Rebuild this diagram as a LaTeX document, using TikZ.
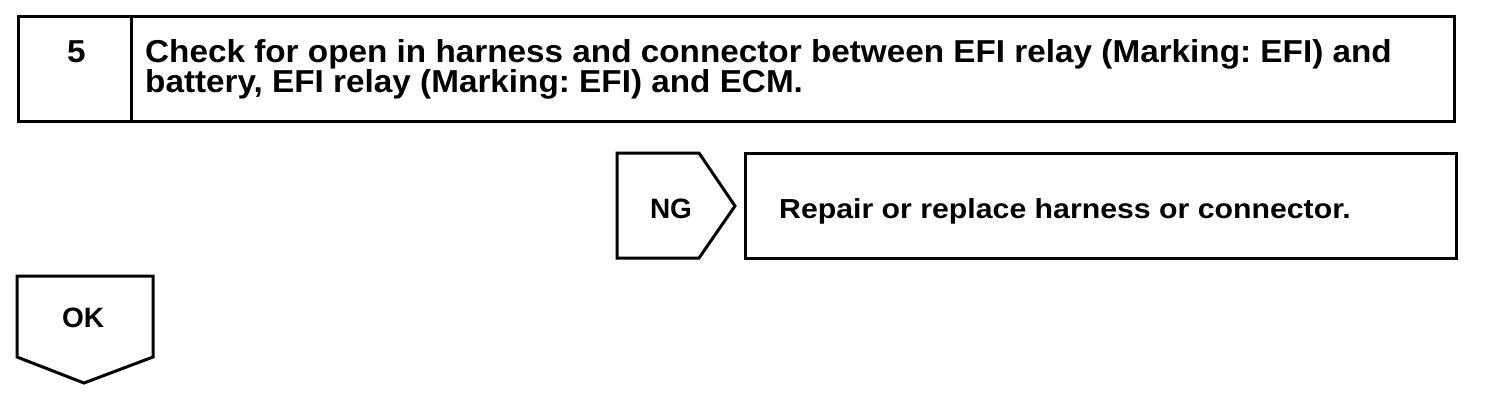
\documentclass[tikz,border=0pt]{standalone}
\usepackage{fontspec}
\setmainfont{Liberation Sans}
\newfontfamily\steptxt[FakeStretch=1.05]{Liberation Sans}
\newfontfamily\reptxt[FakeStretch=1.1]{Liberation Sans}
\frenchspacing
\begin{document}
\begin{tikzpicture}[x=1pt,y=-1pt,
  frame/.style={draw=black,line width=3pt,line join=miter},
  big/.style={inner sep=0pt,font=\steptxt\fontsize{31.7}{30}\selectfont\bfseries,anchor=base west},
  small/.style={inner sep=0pt,font=\fontsize{28}{30}\selectfont\bfseries,anchor=base},
  rep/.style={inner sep=0pt,font=\reptxt\fontsize{27.5}{30}\selectfont\bfseries,anchor=base west}]
\useasboundingbox (0,0) rectangle (1504,394);
% step box
\draw[frame] (18,16) rectangle (1454,121);
\draw[frame] (131,16) -- (131,121);
\node[big,anchor=base] (num) at (76.5,62.5) {5};
\node[big] (l1) at (145,62.5) {Check for open in harness and connector between EFI relay (Marking: EFI) and};
\node[big] (l2) at (145,92) {battery, EFI relay (Marking: EFI) and ECM.};
% NG
\draw[frame] (617,153) -- (699,153) -- (735,206) -- (699,258) -- (617,258) -- cycle;
\node[small] (ng) at (671,218) {NG};
\draw[frame] (745,153) rectangle (1456,258);
\node[rep] (rep) at (779,218) {Repair or replace harness or connector.};
% OK
\draw[frame] (17,276) -- (153,276) -- (153,357) -- (84,383) -- (17,357) -- cycle;
\node[small] (ok) at (83,327) {OK};
\end{tikzpicture}
\end{document}
